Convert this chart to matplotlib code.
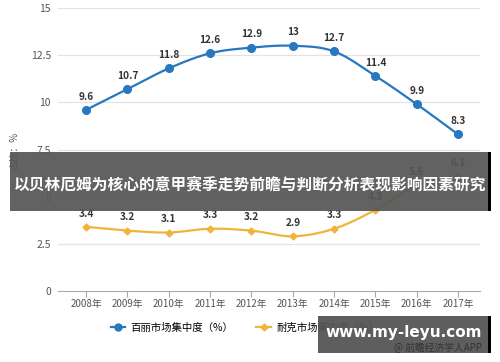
import numpy as np
import matplotlib
matplotlib.use("Agg")
import matplotlib.pyplot as plt
from matplotlib.patches import Rectangle
from matplotlib.lines import Line2D

plt.rcParams['font.family'] = ['Noto Sans CJK SC', 'DejaVu Sans']

# 数据
years = ['2008年', '2009年', '2010年', '2011年', '2012年', '2013年', '2014年', '2015年', '2016年', '2017年']
belle = [9.6, 10.7, 11.8, 12.6, 12.9, 13, 12.7, 11.4, 9.9, 8.3]
nike = [3.4, 3.2, 3.1, 3.3, 3.2, 2.9, 3.3, 4.3, 5.6, 6.1]
yticks = [0, 2.5, 5, 7.5, 10, 12.5, 15]
legend_names = ['百丽市场集中度（%）', '耐克市场集中度（%）']
title = '以贝林厄姆为核心的意甲赛季走势前瞻与判断分析表现影响因素研究'

BLUE = '#2878c0'
GOLD = '#f0b43c'


def smooth(x, y, n=20):
    # Catmull-Rom 平滑曲线
    x = np.asarray(x, float)
    y = np.asarray(y, float)
    px = np.concatenate([[2 * x[0] - x[1]], x, [2 * x[-1] - x[-2]]])
    py = np.concatenate([[2 * y[0] - y[1]], y, [2 * y[-1] - y[-2]]])
    xs, ys = [], []
    t = np.linspace(0, 1, n, endpoint=False)
    for i in range(1, len(px) - 2):
        for p, out in ((px, xs), (py, ys)):
            p0, p1, p2, p3 = p[i - 1], p[i], p[i + 1], p[i + 2]
            out.extend(0.5 * ((2 * p1) + (-p0 + p2) * t
                              + (2 * p0 - 5 * p1 + 4 * p2 - p3) * t ** 2
                              + (-p0 + 3 * p1 - 3 * p2 + p3) * t ** 3))
    xs.append(x[-1])
    ys.append(y[-1])
    return np.array(xs), np.array(ys)


fig = plt.figure(figsize=(5, 3.62), dpi=100)
W, H = 500, 362
ax = fig.add_axes([58 / W, 1 - 291 / H, (480 - 58) / W, (291 - 8) / H])

x = np.arange(len(years))
ax.set_xlim(-0.68, 9.53)
ax.set_ylim(0, 15)

for yt in yticks[1:]:
    ax.axhline(yt, color='#e3e3e3', lw=0.9, zorder=0)

sx, sy = smooth(x, belle)
ax.plot(sx, sy, color=BLUE, lw=1.6, zorder=3)
ax.plot(x, belle, 'o', color=BLUE, ms=5.5, zorder=4)
sx, sy = smooth(x, nike)
ax.plot(sx, sy, color=GOLD, lw=1.6, zorder=3)
ax.plot(x, nike, 'D', color=GOLD, ms=3.5, zorder=4)

for xi, v in zip(x, belle):
    ax.annotate(f'{v:g}', (xi, v), xytext=(0, 6), textcoords='offset points',
                ha='center', va='bottom', fontsize=7.3, fontweight='bold', color='#333333')
for xi, v in zip(x, nike):
    ax.annotate(f'{v:g}', (xi, v), xytext=(0, 6), textcoords='offset points',
                ha='center', va='bottom', fontsize=7.3, fontweight='bold', color='#333333')

for s in ['top', 'right', 'left']:
    ax.spines[s].set_visible(False)
ax.spines['bottom'].set_color('#aaaaaa')
ax.set_xticks(x)
ax.set_xticklabels(years)
ax.set_yticks(yticks)
ax.set_yticklabels([f'{v:g}' for v in yticks])
ax.tick_params(axis='x', colors='#aaaaaa', labelcolor='#555555', labelsize=7, length=4, pad=2)
ax.tick_params(axis='y', length=0, labelcolor='#555555', labelsize=7.5, pad=5)
ax.set_ylabel('占比：%', fontsize=7, color='#555555')
ax.yaxis.set_label_coords(-0.095, 0.5)

# 图例
handles = [Line2D([], [], color=BLUE, marker='o', ms=5, lw=1.6),
           Line2D([], [], color=GOLD, marker='D', ms=3.5, lw=1.6)]
fig.legend(handles, legend_names, loc='center', bbox_to_anchor=(245 / W, 1 - 328 / H),
           ncol=2, frameon=False, fontsize=7.5, handlelength=1.4, columnspacing=2.2,
           handletextpad=0.5)

# 标题横幅
fig.patches.append(Rectangle((10 / W, 1 - 211 / H), 478 / W, 59 / H, transform=fig.transFigure,
                             facecolor='#555555', alpha=0.92, zorder=10))
fig.patches.append(Rectangle((488 / W, 1 - 211 / H), 3 / W, 59 / H, transform=fig.transFigure,
                             facecolor='#000000', zorder=10))
fig.text(250 / W, 1 - 185 / H, title, ha='center', va='center', color='white',
         fontsize=11.3, fontweight='bold', zorder=11)

# 右下角网址框
fig.patches.append(Rectangle((318 / W, 1 - 353 / H), 170 / W, 37 / H, transform=fig.transFigure,
                             facecolor='#555555', alpha=0.95, zorder=10))
fig.patches.append(Rectangle((488 / W, 1 - 353 / H), 3 / W, 37 / H, transform=fig.transFigure,
                             facecolor='#000000', zorder=10))
fig.text(404 / W, 1 - 332 / H, 'www.my-leyu.com', ha='center', va='center', color='white',
         fontsize=11, fontweight='bold', zorder=11, family='DejaVu Sans')
fig.text(482 / W, 1 - 348 / H, '@ 前瞻经济学人APP', ha='right', va='center', color='#333333',
         fontsize=7, zorder=12)

fig.savefig('out.png', dpi=100)
